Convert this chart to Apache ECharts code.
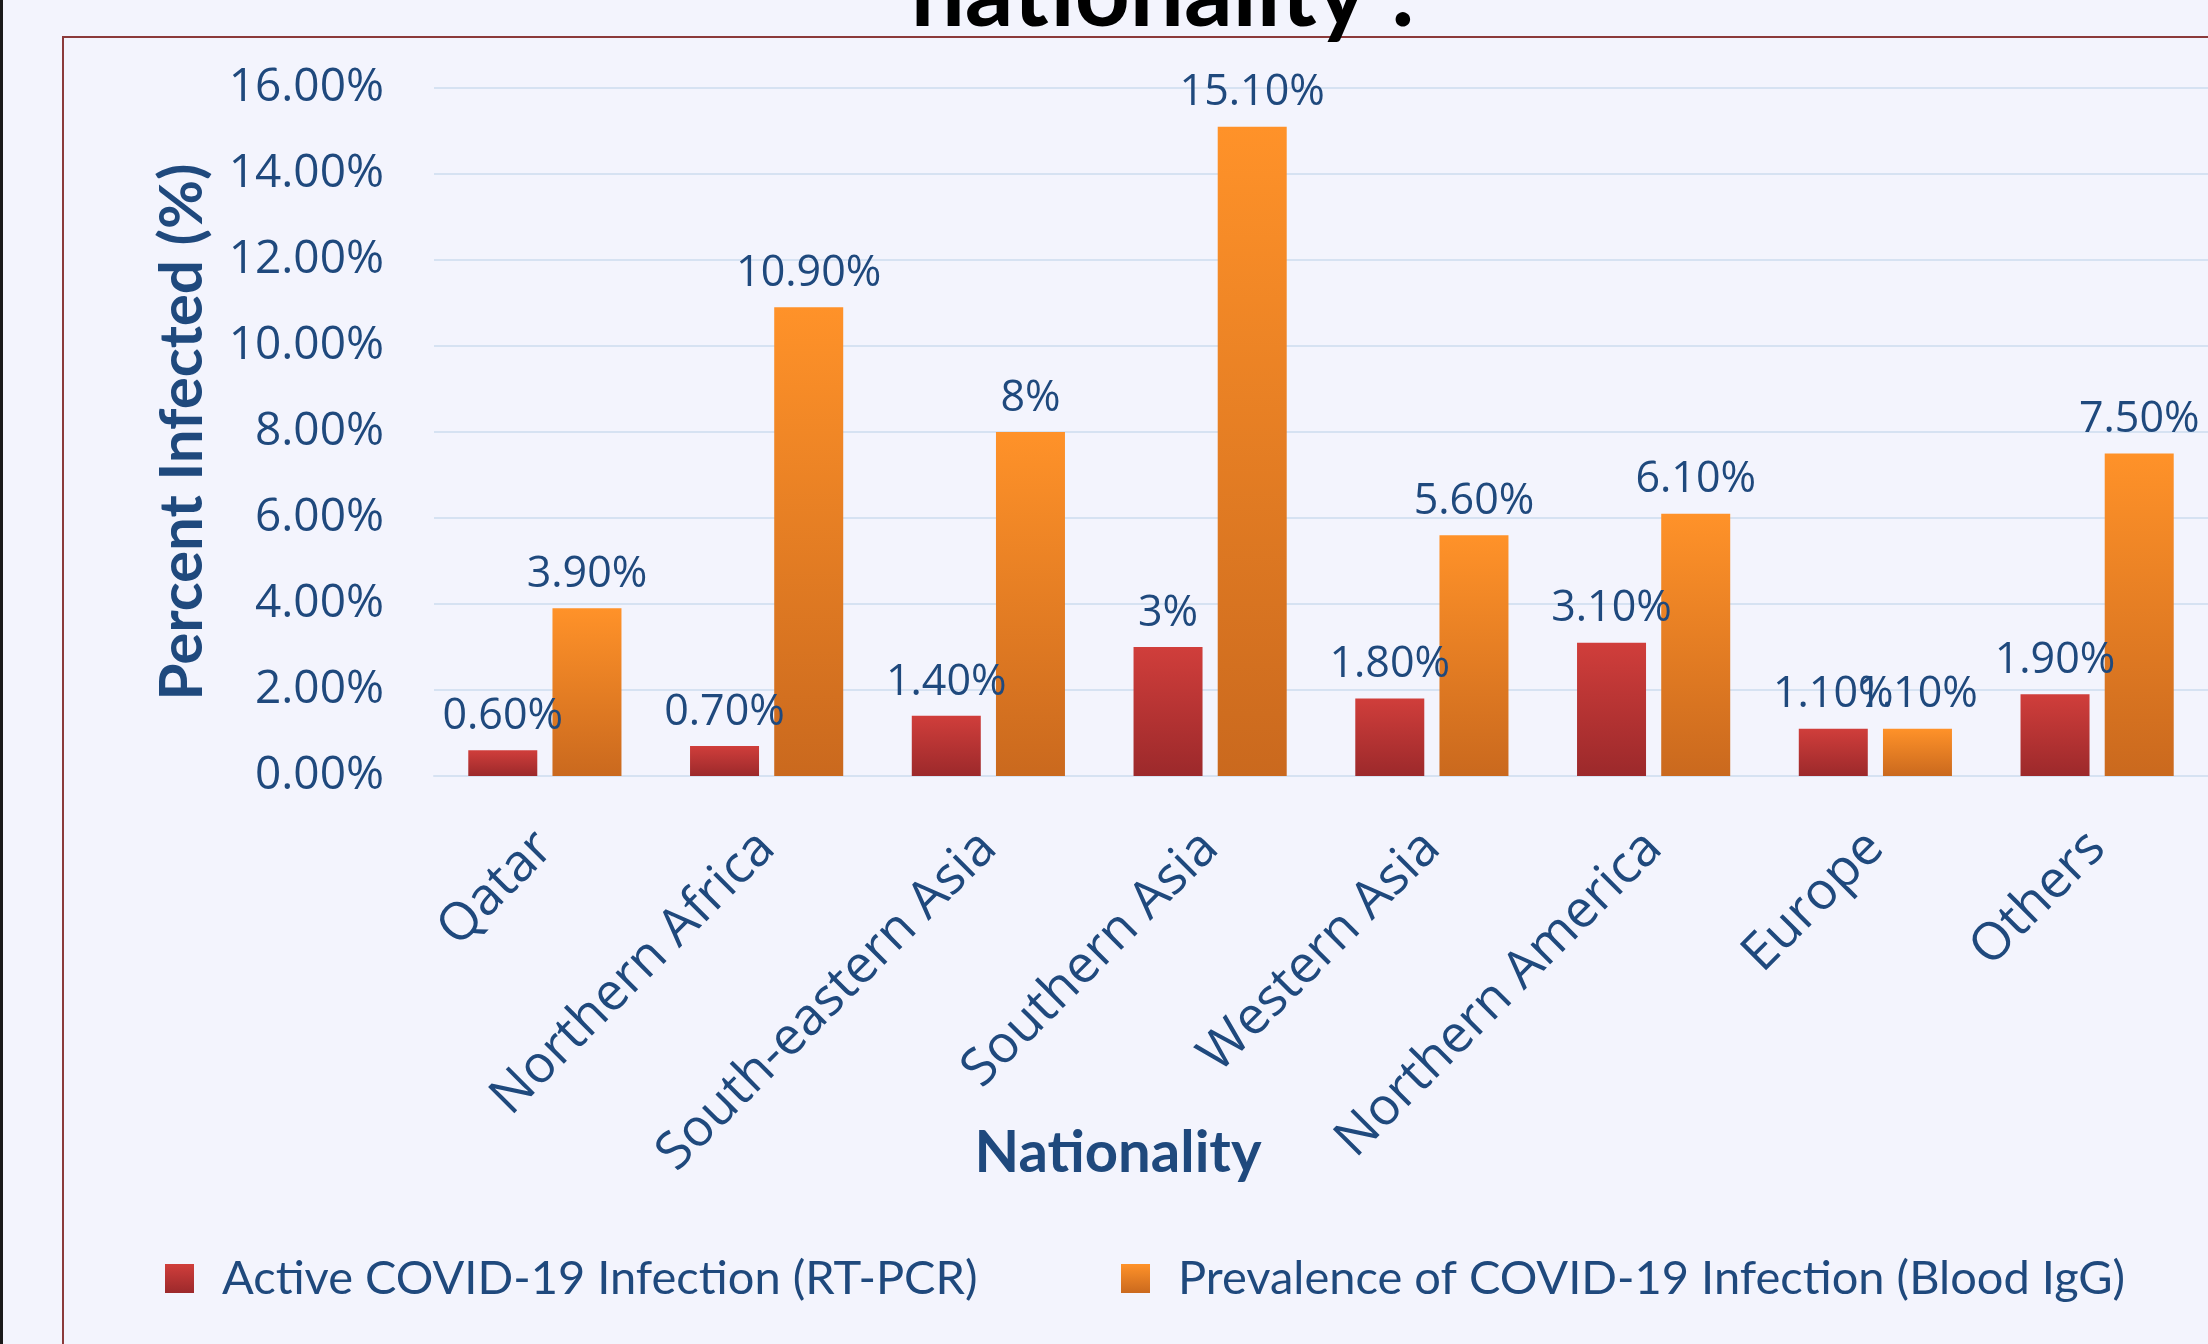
<!DOCTYPE html>
<html>
<head>
<meta charset="utf-8">
<script src="https://cdn.jsdelivr.net/npm/echarts@6/dist/echarts.min.js"></script>
<style>
html,body{margin:0;padding:0;background:#F3F4FD;}
#chart{width:2208px;height:1344px;}
</style>
</head>
<body>
<div id="chart"></div>
<script>
var categories = ['Qatar', 'Northern Africa', 'South-eastern Asia', 'Southern Asia', 'Western Asia', 'Northern America', 'Europe', 'Others'];
var pcrValues = [0.6, 0.7, 1.4, 3, 1.8, 3.1, 1.1, 1.9];
var iggValues = [3.9, 10.9, 8, 15.1, 5.6, 6.1, 1.1, 7.5];
var pcrLabels = ['0.60%', '0.70%', '1.40%', '3%', '1.80%', '3.10%', '1.10%', '1.90%'];
var iggLabels = ['3.90%', '10.90%', '8%', '15.10%', '5.60%', '6.10%', '1.10%', '7.50%'];
var yTicks = [0, 2, 4, 6, 8, 10, 12, 14, 16];

var BLUE = '#1F497D';

var Chart = {
    gradient : function(top, bottom){
        return new echarts.graphic.LinearGradient(0, 0, 0, 1, [
            {offset: 0, color: top},
            {offset: 1, color: bottom}
        ]);
    },
    label : function(texts){
        return {
            show: true,
            position: 'top',
            distance: 12,
            color: BLUE,
            fontFamily: 'Open Sans',
            fontSize: 43,
            formatter: function(p){ return texts[p.dataIndex]; }
        };
    },
    legend : function(name, left){
        return {
            data: [name],
            left: left,
            top: 1250,
            itemWidth: 29,
            itemHeight: 29,
            icon: 'rect',
            textStyle: {
                color: BLUE,
                fontFamily: 'Lato',
                fontSize: 47,
                padding: [0, 0, 0, 23]
            }
        };
    },
    build : function(){
        var option = {
            backgroundColor: '#F3F4FD',
            animation: false,
            title: {
                text: 'nationality :',
                left: 1158,
                textAlign: 'center',
                top: -58,
                textStyle: {
                    color: '#000',
                    fontFamily: 'Lato',
                    fontWeight: 'bold',
                    fontSize: 96
                }
            },
            graphic: [
                {type: 'rect', shape: {x: 0, y: 0, width: 3, height: 1344}, style: {fill: '#1a1a1a'}},
                {type: 'rect', shape: {x: 63, y: 37, width: 2300, height: 1400}, style: {fill: 'none', stroke: '#8B3A3A', lineWidth: 2}}
            ],
            legend: [
                Chart.legend('Active COVID-19 Infection (RT-PCR)', 160),
                Chart.legend('Prevalence of COVID-19 Infection (Blood IgG)', 1116)
            ],
            grid: {left: 434, top: 88, width: 1780, height: 688},
            xAxis: {
                type: 'category',
                data: categories,
                name: 'Nationality',
                nameLocation: 'middle',
                nameGap: 348,
                nameMoveOverlap: false,
                nameTextStyle: {
                    color: BLUE,
                    fontFamily: 'Lato',
                    fontWeight: 'bold',
                    fontSize: 58,
                    padding: [0, 406, 0, 0]
                },
                axisLine: {lineStyle: {color: '#D6E2F2', width: 2}},
                axisTick: {show: false},
                axisLabel: {
                    rotate: 45,
                    margin: 64,
                    interval: 0,
                    color: BLUE,
                    fontFamily: 'Open Sans',
                    fontSize: 52
                }
            },
            yAxis: {
                type: 'value',
                min: yTicks[0],
                max: yTicks[yTicks.length - 1],
                interval: 2,
                name: 'Percent Infected (%)',
                nameLocation: 'middle',
                nameGap: 221,
                nameTextStyle: {color: BLUE, fontFamily: 'Lato', fontWeight: 'bold', fontSize: 60},
                axisLine: {show: false},
                axisTick: {show: false},
                splitLine: {lineStyle: {color: '#D6E2F2', width: 2}},
                axisLabel: {
                    margin: 50,
                    color: BLUE,
                    fontFamily: 'Open Sans',
                    fontSize: 46,
                    formatter: function(v){ return v.toFixed(2) + '%'; }
                }
            },
            series: [
                {
                    name: 'Active COVID-19 Infection (RT-PCR)',
                    type: 'bar',
                    data: pcrValues,
                    barWidth: 69,
                    barGap: '22%',
                    itemStyle: {color: Chart.gradient('#D03E3B', '#9C292B')},
                    label: Chart.label(pcrLabels)
                },
                {
                    name: 'Prevalence of COVID-19 Infection (Blood IgG)',
                    type: 'bar',
                    data: iggValues,
                    barWidth: 69,
                    barGap: '22%',
                    itemStyle: {color: Chart.gradient('#FF9229', '#CA691E')},
                    label: Chart.label(iggLabels)
                }
            ]
        };
        return option;
    }
};

var myChart = echarts.init(document.getElementById('chart'));
myChart.setOption(Chart.build());
</script>
</body>
</html>
